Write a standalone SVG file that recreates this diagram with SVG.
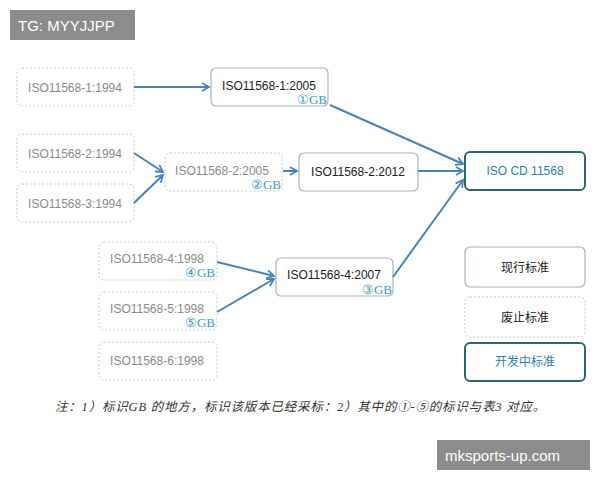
<svg xmlns="http://www.w3.org/2000/svg" width="600" height="480" viewBox="0 0 600 480">
<style>
.old{fill:#fff;stroke:#c8c8c8;stroke-width:1;stroke-dasharray:2 2}
.cur{fill:#fff;stroke:#a9b3bc;stroke-width:1.2}
.dev{fill:#fff;stroke:#2f6479;stroke-width:2}
.t{font-family:"Liberation Sans","Noto Sans CJK SC",sans-serif;font-size:12px;text-anchor:middle}
.g{fill:#8a8a8a}.k{fill:#222}
.gb{font-family:"Liberation Serif",serif;font-size:13px;fill:#3a9ac0;text-anchor:end}
.c{stroke:#4a84b4;stroke-width:2;fill:none;marker-end:url(#a)}
</style>
<defs><marker id="a" markerWidth="10" markerHeight="10" refX="8" refY="5" orient="auto" markerUnits="userSpaceOnUse"><path d="M1,1 L8,5 L1,9" fill="none" stroke="#4a84b4" stroke-width="1.8"/></marker></defs>
<rect width="600" height="480" fill="#fff"/>
<g id="wm1"><rect x="10" y="10" width="125" height="30" fill="#8c8c8c"/><text x="18" y="31" font-family="Liberation Sans,sans-serif" font-size="15" fill="#fff">TG: MYYJJPP</text></g>
<g id="n1"><rect class="old" x="17" y="68" width="117" height="38" rx="5"/><text class="t g" x="75" y="92">ISO11568-1:1994</text></g>
<g id="n2"><rect class="cur" x="211" y="68" width="117" height="38" rx="5"/><text class="t k" x="269" y="90">ISO11568-1:2005</text><text class="gb" x="327" y="104">①GB</text></g>
<g id="n3"><rect class="old" x="17" y="134" width="117" height="38" rx="5"/><text class="t g" x="75" y="158">ISO11568-2:1994</text></g>
<g id="n4"><rect class="old" x="17" y="184" width="117" height="38" rx="5"/><text class="t g" x="75" y="208">ISO11568-3:1994</text></g>
<g id="n5"><rect class="old" x="165" y="153" width="117" height="38" rx="5"/><text class="t g" x="222" y="175">ISO11568-2:2005</text><text class="gb" x="281" y="189">②GB</text></g>
<g id="n6"><rect class="cur" x="299" y="153" width="119" height="38" rx="5"/><text class="t k" x="358" y="176">ISO11568-2:2012</text></g>
<g id="n7"><rect class="dev" x="465" y="152" width="120" height="38" rx="5"/><text class="t" x="525" y="175" fill="#2f7fa8">ISO CD 11568</text></g>
<g id="n8"><rect class="old" x="99" y="242" width="118" height="38" rx="5"/><text class="t g" x="157" y="263">ISO11568-4:1998</text><text class="gb" x="215" y="277">④GB</text></g>
<g id="n9"><rect class="old" x="99" y="292" width="118" height="38" rx="5"/><text class="t g" x="157" y="313">ISO11568-5:1998</text><text class="gb" x="215" y="327">⑤GB</text></g>
<g id="n10"><rect class="old" x="99" y="342" width="118" height="38" rx="5"/><text class="t g" x="157" y="365">ISO11568-6:1998</text></g>
<g id="n11"><rect class="cur" x="276" y="258" width="117" height="38" rx="5"/><text class="t k" x="334" y="279">ISO11568-4:2007</text><text class="gb" x="392" y="294">③GB</text></g>
<g id="l1"><rect class="cur" x="465" y="247" width="120" height="40" rx="5"/><text class="t k" x="525" y="272" font-size="13">现行标准</text></g>
<g id="l2"><rect class="old" x="465" y="297" width="120" height="40" rx="5"/><text class="t k" x="525" y="322" font-size="13">废止标准</text></g>
<g id="l3"><rect class="dev" x="465" y="343" width="120" height="38" rx="5"/><text class="t" x="525" y="366" font-size="13" fill="#2f7fa8">开发中标准</text></g>
<g id="connectors">
<line class="c" x1="134" y1="87" x2="209" y2="87"/>
<line class="c" x1="330" y1="105" x2="463" y2="164"/>
<line class="c" x1="134" y1="153" x2="163" y2="172"/>
<line class="c" x1="134" y1="203" x2="163" y2="175"/>
<line class="c" x1="283" y1="171" x2="297" y2="171"/>
<line class="c" x1="418" y1="171" x2="463" y2="171"/>
<line class="c" x1="217" y1="262" x2="274" y2="276"/>
<line class="c" x1="217" y1="312" x2="274" y2="279"/>
<line class="c" x1="393" y1="277" x2="463" y2="180"/>
</g>
<text x="55" y="411" font-family="Liberation Serif,'Noto Sans CJK SC',serif" font-style="italic" font-size="12.5" letter-spacing="0.8" fill="#333">注：1）标识GB 的地方，标识该版本已经采标：2）其中的①-⑤的标识与表3 对应。</text>
<g id="wm2"><rect x="437" y="440" width="153" height="30" fill="#8c8c8c"/><text x="445" y="461" font-family="Liberation Sans,sans-serif" font-size="15" fill="#fff">mksports-up.com</text></g>
</svg>
